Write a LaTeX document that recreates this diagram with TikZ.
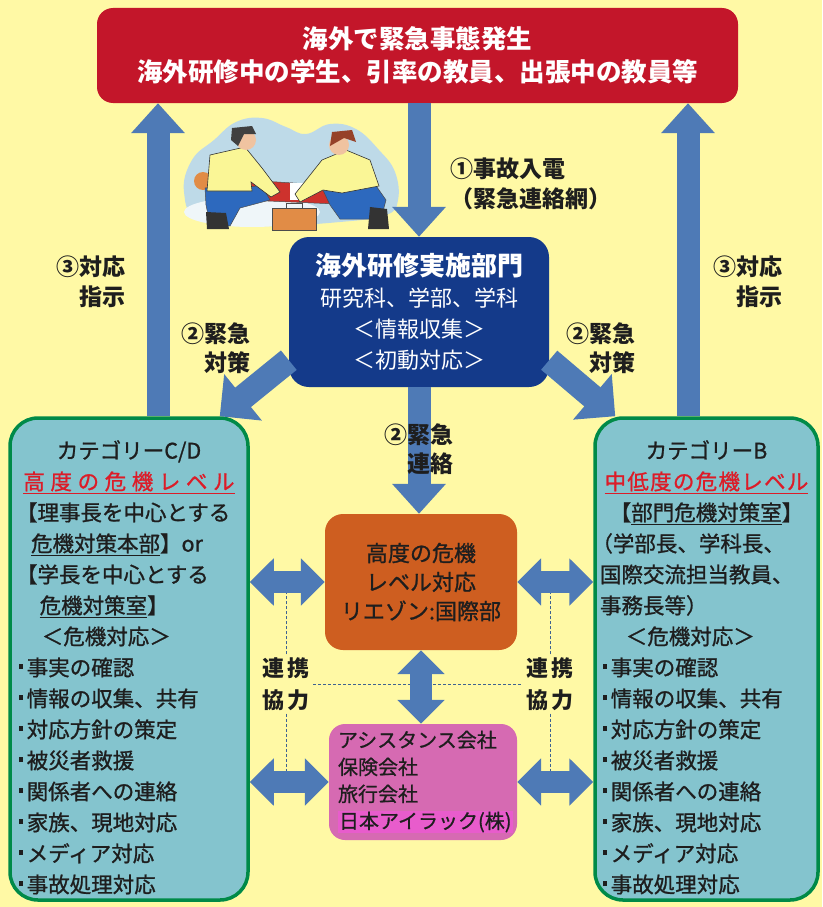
\documentclass[tikz,border=0pt]{standalone}
\usepackage{fontspec}
\setmainfont{Noto Sans CJK JP}
\usetikzlibrary{arrows.meta}

\definecolor{bgyellow}{RGB}{255,249,165}
\definecolor{alertred}{RGB}{195,22,42}
\definecolor{hubblue}{RGB}{20,58,138}
\definecolor{liaisonorange}{RGB}{206,94,32}
\definecolor{partnerpink}{RGB}{214,106,178}
\definecolor{markpink}{RGB}{232,92,204}
\definecolor{levelfill}{RGB}{132,196,206}
\definecolor{levelgreen}{RGB}{0,138,72}
\definecolor{levelred}{RGB}{220,28,40}
\definecolor{flowblue}{RGB}{78,122,182}
\definecolor{inkdark}{RGB}{30,30,30}
\definecolor{cloudblue}{RGB}{190,218,232}
\definecolor{shirtyellow}{RGB}{250,246,150}
\definecolor{pantsblue}{RGB}{45,105,190}
\definecolor{patientred}{RGB}{205,50,45}
\definecolor{hairbrown}{RGB}{150,65,40}
\definecolor{skintone}{RGB}{240,195,160}
\definecolor{kitorange}{RGB}{225,140,70}

\tikzstyle{colorbox} = [rectangle, text centered, align=center]
\tikzstyle{alertbox} = [colorbox, rounded corners=16pt, fill=alertred, text=white, minimum width=641pt, minimum height=95pt, font=\fontsize{25.5}{33}\selectfont\bfseries]
\tikzstyle{hubbox} = [colorbox, rounded corners=20pt, fill=hubblue, text=white, minimum width=260pt, minimum height=150pt, font=\fontsize{22}{31}\selectfont]
\tikzstyle{liaisonbox} = [colorbox, rounded corners=18pt, fill=liaisonorange, text=inkdark, minimum width=192pt, minimum height=136pt, font=\fontsize{22}{29}\selectfont\addfontfeature{FakeBold=1}]
\tikzstyle{partnerbox} = [rectangle, rounded corners=16pt, fill=partnerpink, text=inkdark, text width=170pt, align=left, inner xsep=9pt, minimum height=116pt, font=\fontsize{20}{27}\selectfont\addfontfeature{FakeBold=0.8}]
\tikzstyle{levelbox} = [rectangle, rounded corners=28pt, draw=levelgreen, line width=3.5pt, fill=levelfill, text=inkdark, align=left, minimum height=482pt, font=\fontsize{21.5}{31}\selectfont\addfontfeature{FakeBold=1}]
\tikzstyle{flowlabel} = [inkdark, align=right, inner sep=1pt, font=\fontsize{23}{29.5}\selectfont\bfseries]
\tikzstyle{cooplabel} = [inkdark, align=center, inner sep=3pt, font=\fontsize{22}{32}\selectfont\bfseries]
\tikzstyle{flowarrow} = [flowblue, line width=23pt, -{Triangle[width=52pt,length=30pt]}]
\tikzstyle{slantarrow} = [flowblue, line width=25pt, -{Triangle[width=58pt,length=30pt]}]
\tikzstyle{twinarrow} = [flowblue, line width=22pt, {Triangle[width=46pt,length=24pt]}-{Triangle[width=46pt,length=24pt]}]
\tikzstyle{coopline} = [flowblue!80!black, line width=0.9pt, dash pattern=on 3pt off 2pt]

\newcommand{\itemdot}{\hspace*{0.12em}\rule[0.3em]{0.22em}{0.22em}\hspace*{0.16em}}
\newcommand{\centerrow}[1]{\makebox[\linewidth]{#1}}

\begin{document}
\begin{tikzpicture}[x=1pt, y=-1pt]
	\useasboundingbox (0,0) rectangle (822,907);
	\fill[bgyellow] (0,0) rectangle (822,907);

	% rescue scene behind the first call
	\fill[cloudblue] plot[smooth cycle, tension=0.7] coordinates {(184,192) (192,160) (214,140) (236,122) (262,118) (286,127) (306,134) (330,124) (356,129) (379,150) (395,172) (398,200) (386,215) (340,222) (262,226) (200,220)};
	\fill[white!75!cloudblue] (252,212) ellipse (68 and 15);
	\fill[patientred, draw=black!70, line width=0.5pt] (214,178) -- (356,187) -- (360,205) -- (222,199) -- cycle;
	\fill[white] (290,183) rectangle (304,200);
	\fill[kitorange] (203,181) circle (9);
	\fill[pantsblue, draw=black!70, line width=0.5pt] (205,188) -- (262,186) -- (270,200) -- (240,208) -- (230,226) -- (210,224) -- (206,205) -- cycle;
	\fill[black!80] (206,212) -- (226,213) -- (229,229) -- (207,229) -- cycle;
	\fill[shirtyellow, draw=black!80, line width=0.6pt] (210,155) -- (245,147) -- (262,168) -- (280,192) -- (271,197) -- (251,182) -- (252,191) -- (207,191) -- cycle;
	\fill[skintone] (246,140) circle (10);
	\fill[black!75] (232,128) -- (252,126) -- (256,134) -- (244,134) -- (238,146) -- (231,140) -- cycle;
	\fill[pantsblue, draw=black!70, line width=0.5pt] (322,188) -- (372,180) -- (386,200) -- (381,219) -- (340,219) -- (330,205) -- cycle;
	\fill[black!80] (370,207) -- (387,209) -- (389,229) -- (368,229) -- cycle;
	\fill[shirtyellow, draw=black!80, line width=0.6pt] (322,160) -- (346,150) -- (370,160) -- (379,186) -- (342,193) -- (323,190) -- (300,202) -- (295,194) -- cycle;
	\fill[skintone] (339,145) circle (10);
	\fill[hairbrown] (332,132) -- (352,130) -- (356,142) -- (344,138) -- (330,146) -- cycle;
	\fill[kitorange, draw=black!70, line width=0.6pt] (272,208) rectangle (316,230);
	\draw[black!70, line width=1pt] (286,208) -- (286,203) -- (302,203) -- (302,208);

	% boxes
	\node (alert) [alertbox] at (417.5,55.5) {海外で緊急事態発生\\海外研修中の学生、引率の教員、出張中の教員等};
	\node (hub) [hubbox] at (419,312) {{\fontsize{26}{31}\selectfont\bfseries 海外研修実施部門}\\研究科、学部、学科\\＜情報収集＞\\＜初動対応＞};
	\node (liaison) [liaisonbox] at (421,582) {高度の危機\\レベル対応\\リエゾン:国際部};
	\node (partners) [partnerbox] at (423,782) {アシスタンス会社\\保険会社\\旅行会社\\{\fboxsep=1pt\colorbox{markpink}{日本アイラック(株)}}};
	\node (catCD) [levelbox, text width=226pt, inner xsep=6pt] at (129,659) {%
		\vspace*{4pt}
		\centerrow{カテゴリーC/D}\\
		\centerrow{\color{levelred}\underline{\addfontfeature{LetterSpace=26}高度の危機レベル}}\\
		【理事長を中心とする\\
		\hspace*{0.7em}\underline{危機対策本部}】or\\
		【学長を中心とする\\
		\hspace*{1.1em}\underline{危機対策室}】\\
		\hspace*{1.2em}＜危機対応＞\\
		\itemdot 事実の確認\\
		\itemdot 情報の収集、共有\\
		\itemdot 対応方針の策定\\
		\itemdot 被災者救援\\
		\itemdot 関係者への連絡\\
		\itemdot 家族、現地対応\\
		\itemdot メディア対応\\
		\itemdot 事故処理対応};
	\node (catB) [levelbox, text width=213pt, inner xsep=5pt] at (706.5,659) {%
		\vspace*{4pt}
		\centerrow{カテゴリーB}\\
		\centerrow{\color{levelred}\underline{\addfontfeature{LetterSpace=6}中低度の危機レベル}}\\
		\centerrow{【\underline{部門危機対策室}】}\\
		\hspace*{-0.4em}（学部長、学科長、\\
		国際交流担当教員、\\
		事務長等）\\
		\hspace*{1.2em}＜危機対応＞\\
		\itemdot 事実の確認\\
		\itemdot 情報の収集、共有\\
		\itemdot 対応方針の策定\\
		\itemdot 被災者救援\\
		\itemdot 関係者への連絡\\
		\itemdot 家族、現地対応\\
		\itemdot メディア対応\\
		\itemdot 事故処理対応};

	% labels beside the arrows
	\node (callnote) [flowlabel, align=left, anchor=west] at (449,184) {①事故入電\\（緊急連絡網）};
	\node (orderL) [flowlabel, anchor=east] at (127,282) {③対応\\指示};
	\node (orderR) [flowlabel, anchor=east] at (784,282) {③対応\\指示};
	\node (urgentL) [flowlabel, anchor=east] at (252,348) {②緊急\\対策};
	\node (urgentR) [flowlabel, anchor=east] at (637,348) {②緊急\\対策};
	\node (coopL) [cooplabel] at (286,684) {連\,携\\協\,力};
	\node (coopR) [cooplabel] at (550,684) {連\,携\\協\,力};

	% dotted links for the cooperation
	\draw[coopline] (coopL.north) -- (coopL.north |- liaison.west);
	\draw[coopline] (coopL.south) -- (coopL.south |- partners.west);
	\draw[coopline] (coopR.north) -- (coopR.north |- liaison.east);
	\draw[coopline] (coopR.south) -- (coopR.south |- partners.east);
	\draw[coopline] (coopL.east) -- (coopR.west);

	% arrows
	\coordinate (upL) at ([xshift=29pt]catCD.north);
	\coordinate (upR) at ([xshift=-18.5pt]catB.north);
	\draw[flowarrow] (upL) -- (upL |- alert.south);
	\draw[flowarrow] (upR) -- (upR |- alert.south);
	\draw[flowarrow] (alert.south -| hub.north) -- (hub.north);
	\draw[slantarrow] ([yshift=27pt]hub.south west) -- ([xshift=-30pt]catCD.north east);
	\draw[slantarrow] ([yshift=27pt]hub.south east) -- ([xshift=22pt]catB.north west);
	\draw[flowarrow] (hub.south) -- (hub.south |- liaison.north);
	\draw[twinarrow] (liaison.south) -- (liaison.south |- partners.north);
	\draw[twinarrow] (catCD.east |- liaison.west) -- (liaison.west);
	\draw[twinarrow] (catCD.east |- partners.west) -- (partners.west);
	\draw[twinarrow] (liaison.east) -- (catB.west |- liaison.east);
	\draw[twinarrow] (partners.east) -- (catB.west |- partners.east);

	% this one sits on top of its arrow
	\node (contact) [flowlabel, anchor=east] at (455,449) {②緊急\\連絡};
\end{tikzpicture}
\end{document}
